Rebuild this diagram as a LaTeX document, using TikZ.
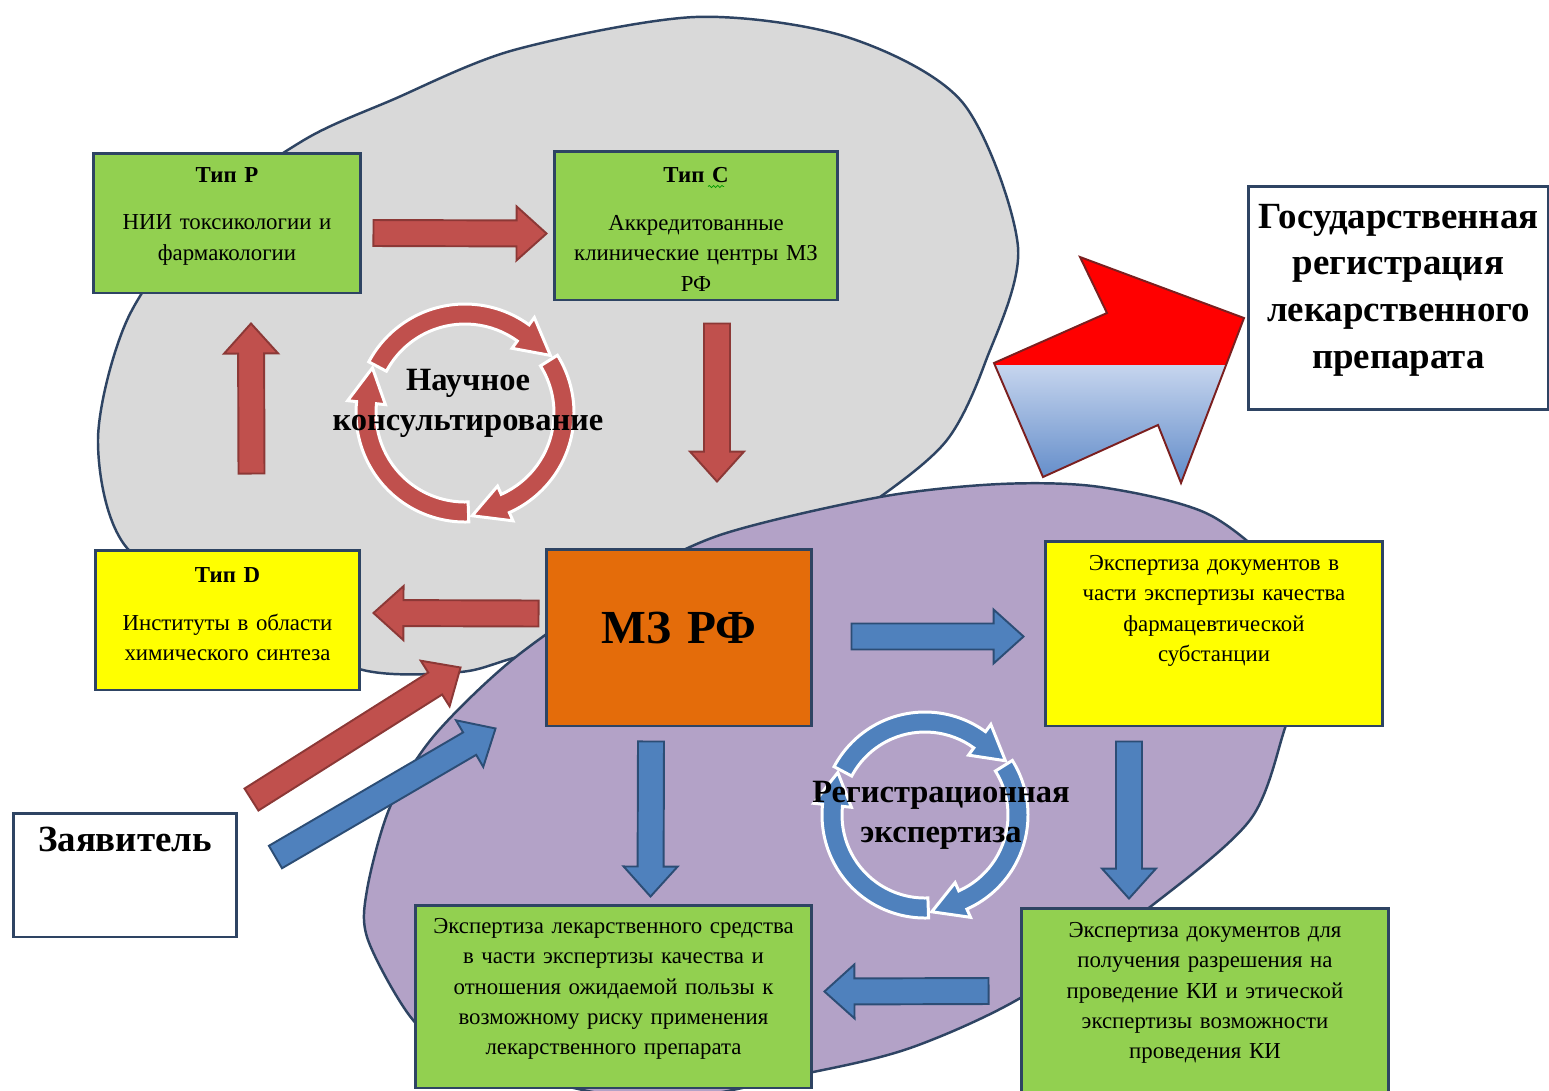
\documentclass[tikz,border=0pt]{standalone}
\usepackage{fontspec}
\setmainfont{Liberation Serif}
\usetikzlibrary{calc,decorations.pathmorphing}

\definecolor{navyline}{HTML}{2E4463}
\definecolor{greyfill}{HTML}{D9D9D9}
\definecolor{lilac}{HTML}{B3A2C7}
\definecolor{boxgreen}{HTML}{92D050}
\definecolor{boxyellow}{HTML}{FFFF00}
\definecolor{mzorange}{HTML}{E46C0A}
\definecolor{arrowred}{HTML}{C0504D}
\definecolor{arrowredline}{HTML}{8C3836}
\definecolor{arrowblue}{HTML}{4F81BD}
\definecolor{arrowblueline}{HTML}{2C4D75}
\definecolor{regred}{HTML}{FF0000}
\definecolor{regblue1}{HTML}{C6D5EE}
\definecolor{regblue2}{HTML}{5A86C6}
\definecolor{regline}{HTML}{7B1F1F}

% fat block arrow: style, tail, tip
\newcommand{\fatarrow}[3]{%
  \coordinate (fa-t) at #2;
  \coordinate (fa-h) at #3;
  \coordinate (fa-n) at ($(fa-h)!0.6cm!(fa-t)$);
  \draw[#1] ($(fa-t)!0.26cm!90:(fa-h)$) -- ($(fa-n)!0.26cm!-90:(fa-t)$)
    -- ($(fa-n)!0.54cm!-90:(fa-t)$) -- (fa-h) -- ($(fa-n)!0.54cm!90:(fa-t)$)
    -- ($(fa-n)!0.26cm!90:(fa-t)$) -- ($(fa-t)!0.26cm!-90:(fa-h)$) -- cycle;
}

% one bent piece of a cycle: style, centre, start angle, tip angle, radius
\newcommand{\cycleseg}[5]{%
  \pgfmathsetmacro{\cshb}{#4-20}%
  \pgfmathsetmacro{\csro}{#5+10}\pgfmathsetmacro{\csri}{#5-10}%
  \pgfmathsetmacro{\csrO}{#5+19}\pgfmathsetmacro{\csrI}{#5-19}%
  \pgfmathsetmacro{\csrT}{#5+4}%
  \draw[#1] ([shift={(#3:\csro)}]#2) arc[start angle=#3, end angle=\cshb, radius=\csro]
    -- ([shift={(\cshb:\csrO)}]#2) -- ([shift={(#4:\csrT)}]#2) -- ([shift={(\cshb:\csrI)}]#2)
    -- ([shift={(\cshb:\csri)}]#2) arc[start angle=\cshb, end angle=#3, radius=\csri] -- cycle;
}

\begin{document}
\begin{tikzpicture}[x=0.02cm, y=-0.02cm,
    box/.style={draw=navyline, line width=1.7pt, inner sep=0pt, align=center,
      font=\fontsize{13}{17.3}\selectfont},
    greenbox/.style={box, fill=boxgreen},
    yellowbox/.style={box, fill=boxyellow},
    whitebox/.style={box, fill=white},
    bigtext/.style={font=\bfseries\fontsize{21}{26.6}\selectfont},
    blob/.style={draw=navyline, line width=1.4pt},
    redblock/.style={fill=arrowred, draw=arrowredline, line width=1.1pt},
    blueblock/.style={fill=arrowblue, draw=arrowblueline, line width=1.1pt},
    cyclered/.style={fill=arrowred, draw=white, line width=1.7pt},
    cycleblue/.style={fill=arrowblue, draw=white, line width=1.7pt},
    cycletext/.style={align=center, font=\bfseries\fontsize{18.5}{22.7}\selectfont},
    spellmark/.style={draw=green!60!black, line width=0.4pt, decorate,
      decoration={snake, amplitude=0.6pt, segment length=2.4pt}}]

  \useasboundingbox (0,0) rectangle (1549,1090);
  \fill[white] (0,0) rectangle (1549,1090);
  \clip (0,0) rectangle (1549,1090);

  % the two areas
  \draw[blob, fill=greyfill] plot[smooth cycle] coordinates {
    (98,440) (128,318) (205,212) (304,140) (392,100) (514,50) (695,17) (847,37)
    (963,103) (1018,247) (985,363) (947,440) (880,497) (780,560) (650,620)
    (517,657) (460,672) (363,670) (250,620) (127,548)};
  \draw[blob, fill=lilac] plot[smooth cycle] coordinates {
    (512,660) (620,585) (720,535) (880,497) (1000,484) (1100,487) (1210,515)
    (1290,585) (1305,660) (1285,728) (1250,820) (1150,907) (1022,997) (913,1047)
    (813,1072) (650,1100) (470,1060) (413,1020) (368,940) (367,890) (390,807)
    (433,737)};

  % big arrow towards registration
  \def\regarrow{(994,363) -- (1107,313) -- (1080,257) -- (1244,318) -- (1181,483)
    -- (1158,425) -- (1043,477) -- cycle}
  \begin{scope}
    \clip \regarrow;
    \fill[regred] (980,240) rectangle (1260,365);
    \shade[top color=regblue1, bottom color=regblue2] (980,365) rectangle (1260,490);
  \end{scope}
  \draw[regline, line width=1.1pt] \regarrow;

  % boxes
  \node[greenbox, text width=5.36cm, text height=0.58cm, text depth=2.22cm] (tipP)
    at (227,223) {\textbf{Тип P}\\[10pt]НИИ токсикологии и\\фармакологии};
  \node[greenbox, text width=5.68cm, text height=0.632cm, text depth=2.348cm] (tipC)
    at (696,225.5) {\textbf{Тип C}\\[10pt]Аккредитованные\\клинические центры МЗ\\РФ};
  \node[yellowbox, text width=5.3cm, text height=0.652cm, text depth=2.148cm] (tipD)
    at (227.5,620) {\textbf{Тип D}\\[10pt]Институты в области\\химического синтеза};
  \node[box, fill=mzorange, text width=5.32cm, text height=1.886cm, text depth=1.654cm,
    font=\bfseries\fontsize{27}{32}\selectfont] (mz) at (679,637.5) {МЗ РФ};
  \node[yellowbox, text width=6.76cm, text height=0.586cm, text depth=3.114cm] (ekspA)
    at (1214,633.5) {Экспертиза документов в\\части экспертизы качества\\фармацевтической\\субстанции};
  \node[greenbox, text width=7.94cm, text height=0.566cm, text depth=3.094cm] (ekspL)
    at (613.5,996.5) {Экспертиза лекарственного средства\\в части экспертизы качества и\\отношения ожидаемой пользы к\\возможному риску применения\\лекарственного препарата};
  \node[greenbox, text width=7.36cm, text height=0.586cm, text depth=3.094cm] (ekspR)
    at (1205,1000) {Экспертиза документов для\\получения разрешения на\\проведение КИ и этической\\экспертизы возможности\\проведения КИ};
  \node[whitebox, bigtext, text width=6.02cm, text height=0.84cm, text depth=3.64cm] (gosreg)
    at (1398.5,298) {Государственная\\регистрация\\лекарственного\\препарата};
  \node[whitebox, bigtext, text width=4.48cm, text height=0.76cm, text depth=1.72cm] (zayav)
    at (125,875) {Заявитель};
  \draw[spellmark] ($(tipC.north)+(12,37)$) -- ++(16,0);

  % red flow
  \fatarrow{redblock}{($(tipP.east)+(11,10)$)}{($(tipC.west)+(-6,8)$)}
  \fatarrow{redblock}{($(tipD.north)+(24,-75)$)}{($(tipP.south)+(24,29)$)}
  \fatarrow{redblock}{($(tipC.south)+(21,22)$)}{($(mz.north)+(38,-66)$)}
  \fatarrow{redblock}{($(mz.west)+(-6,-24)$)}{($(tipD.east)+(12,-7)$)}
  \fatarrow{redblock}{($(zayav.north east)+(13,-12)$)}{($(mz.west)+(-84,30)$)}

  % blue flow
  \fatarrow{blueblock}{($(mz.east)+(38,-1)$)}{($(ekspA.west)+(-20,3)$)}
  \fatarrow{blueblock}{($(mz.south)+(-28,14)$)}{($(ekspL.north)+(37,-7)$)}
  \fatarrow{blueblock}{($(ekspA.south)+(-85,14)$)}{($(ekspR.north)+(-76,-8)$)}
  \fatarrow{blueblock}{($(ekspR.west)+(-31,-9)$)}{($(ekspL.east)+(11,-5)$)}
  \fatarrow{blueblock}{($(zayav.east)+(37,-18)$)}{($(mz.south west)+(-49,1)$)}

  % cycles
  \coordinate (redcyc) at (465,413);
  \coordinate (bluecyc) at (925,815);
  \cycleseg{cyclered}{redcyc}{-152}{-34}{99}
  \cycleseg{cyclered}{redcyc}{-32}{86}{99}
  \cycleseg{cyclered}{redcyc}{88}{206}{99}
  \cycleseg{cycleblue}{bluecyc}{-152}{-34}{93}
  \cycleseg{cycleblue}{bluecyc}{-32}{86}{93}
  \cycleseg{cycleblue}{bluecyc}{88}{206}{93}
  \node[cycletext] (nauch) at (468,403) {Научное\\консультирование};
  \node[cycletext] (regexp) at (941,815) {Регистрационная\\экспертиза};
\end{tikzpicture}
\end{document}
